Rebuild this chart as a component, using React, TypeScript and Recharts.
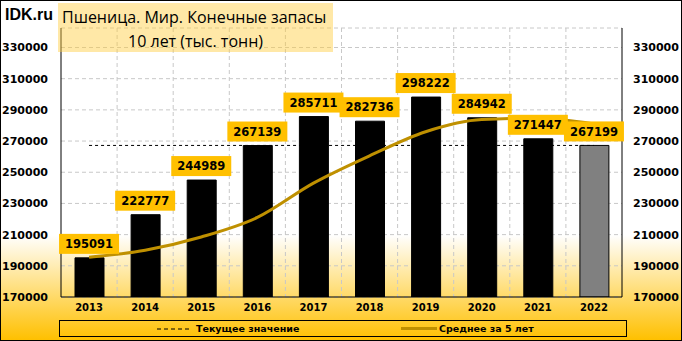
import React from 'react';
import { ComposedChart, Bar, Line, XAxis, YAxis, CartesianGrid, Cell, LabelList } from 'recharts';

const years = ['2013', '2014', '2015', '2016', '2017', '2018', '2019', '2020', '2021', '2022'];
const stocks = [195091, 222777, 244989, 267139, 285711, 282736, 298222, 284942, 271447, 267199];
const avg5 = [195500, 200000, 208500, 221000, 243000, 260500, 276000, 283800, 284600, 281000];
const currentValue = 267199;
const yTicks = [170000, 190000, 210000, 230000, 250000, 270000, 290000, 310000, 330000];
const yDomain = [170000, 342500];

const data = years.map((y, i) => ({
  year: y,
  stock: stocks[i],
  avg: avg5[i],
  current: currentValue,
  isLast: i === years.length - 1,
}));

const FONT = 'DejaVu Sans, sans-serif';

const ValueLabel = (props: any) => {
  const { x, y, value } = props;
  if (x == null || y == null) return null;
  const w = 60;
  const h = 20;
  const top = y - 4 - h;
  return (
    <g>
      <rect x={x - w / 2} y={top} width={w} height={h} fill="#FFC000" />
      <text
        x={x}
        y={top + h / 2}
        dy="0.36em"
        textAnchor="middle"
        fontFamily={FONT}
        fontWeight="bold"
        fontSize={11.5}
        fill="#000"
      >
        {value}
      </text>
    </g>
  );
};

export default function App() {
  return (
    <div
      style={{
        position: 'absolute',
        left: 0,
        top: 0,
        width: 682,
        height: 341,
        boxSizing: 'border-box',
        border: '1px solid #000',
        background: 'linear-gradient(to bottom, #ffffff 0%, #ffffff 69%, #FFC000 100%)',
        overflow: 'hidden',
      }}
    >
      <div style={{ position: 'absolute', left: -1, top: -1 }}>
        <ComposedChart
          width={682}
          height={341}
          data={data}
          margin={{ top: 28, right: 0, left: 0, bottom: 0 }}
        >
          <CartesianGrid
            stroke="#C8C8C8"
            strokeDasharray="4 3"
            horizontal={true}
            vertical={true}
            verticalCoordinatesGenerator={({ offset }: any) =>
              years.slice(1).map((_, i) => offset.left + (offset.width * (i + 1)) / years.length)
            }
          />
          <XAxis
            dataKey="year"
            axisLine={{ stroke: '#000' }}
            tickLine={false}
            tickSize={0}
            tickMargin={7}
            height={44}
            interval={0}
            tick={{ fontFamily: FONT, fontWeight: 'bold', fontSize: 10, fill: '#000' }}
          />
          <XAxis
            xAxisId="top"
            dataKey="year"
            orientation="top"
            axisLine={{ stroke: '#000' }}
            tick={false}
            tickLine={false}
            height={0}
          />
          <YAxis
            domain={yDomain}
            ticks={yTicks}
            allowDataOverflow
            width={61}
            axisLine={{ stroke: '#000' }}
            tickLine={false}
            tickSize={0}
            tickMargin={13}
            tick={{ fontFamily: FONT, fontWeight: 'bold', fontSize: 11, fill: '#000' }}
          />
          <YAxis
            yAxisId="right"
            orientation="right"
            domain={yDomain}
            ticks={yTicks}
            allowDataOverflow
            width={60}
            axisLine={{ stroke: '#000' }}
            tickLine={false}
            tickSize={0}
            tickMargin={11}
            tick={{ fontFamily: FONT, fontWeight: 'bold', fontSize: 11, fill: '#000' }}
          />
          <Bar dataKey="stock" barSize={29} isAnimationActive={false}>
            {data.map((d, i) => (
              <Cell key={i} fill={d.isLast ? '#808080' : '#000'} stroke="#000" strokeWidth={1} />
            ))}
          </Bar>
          <Line
            dataKey="current"
            stroke="#000"
            strokeWidth={1}
            strokeDasharray="3 3"
            dot={false}
            activeDot={false}
            isAnimationActive={false}
          />
          <Line
            dataKey="avg"
            type="monotone"
            stroke="#BF9000"
            strokeWidth={3}
            dot={false}
            activeDot={false}
            isAnimationActive={false}
          />
          <Line
            dataKey="stock"
            stroke="none"
            dot={false}
            activeDot={false}
            isAnimationActive={false}
          >
            <LabelList dataKey="stock" content={ValueLabel} />
          </Line>
        </ComposedChart>
      </div>

      <div
        style={{
          position: 'absolute',
          left: 4,
          top: 4,
          fontFamily: 'Liberation Sans, Arial, sans-serif',
          fontWeight: 'bold',
          fontSize: 16,
          color: '#000',
          lineHeight: '20px',
        }}
      >
        IDK.ru
      </div>
      <div
        style={{
          position: 'absolute',
          left: 57,
          top: 2,
          width: 275,
          height: 49,
          background: 'rgba(255, 205, 60, 0.45)',
          fontFamily: 'Open Sans, sans-serif',
          fontSize: 16,
          color: '#000',
        }}
      >
        <div style={{ position: 'absolute', left: 4, top: 3, whiteSpace: 'nowrap', lineHeight: '22px' }}>
          Пшеница. Мир. Конечные запасы
        </div>
        <div
          style={{
            position: 'absolute',
            left: 0,
            width: 275,
            top: 27,
            textAlign: 'center',
            whiteSpace: 'nowrap',
            lineHeight: '22px',
          }}
        >
          10 лет (тыс. тонн)
        </div>
      </div>

      <div
        style={{
          position: 'absolute',
          left: 58,
          top: 319,
          width: 568,
          height: 17,
          boxSizing: 'border-box',
          border: '1px solid #000',
          fontFamily: FONT,
          fontWeight: 'bold',
          fontSize: 9.5,
          color: '#000',
        }}
      >
        <svg style={{ position: 'absolute', left: 97, top: 6 }} width={34} height={4}>
          <line x1={0} y1={2} x2={34} y2={2} stroke="#000" strokeWidth={1} strokeDasharray="4 3" />
        </svg>
        <span style={{ position: 'absolute', left: 136, top: 1, lineHeight: '13px', whiteSpace: 'nowrap' }}>
          Текущее значение
        </span>
        <svg style={{ position: 'absolute', left: 341, top: 5 }} width={36} height={5}>
          <line x1={0} y1={2.5} x2={36} y2={2.5} stroke="#BF9000" strokeWidth={3} />
        </svg>
        <span style={{ position: 'absolute', left: 379, top: 1, lineHeight: '13px', whiteSpace: 'nowrap' }}>
          Среднее за 5 лет
        </span>
      </div>
    </div>
  );
}
